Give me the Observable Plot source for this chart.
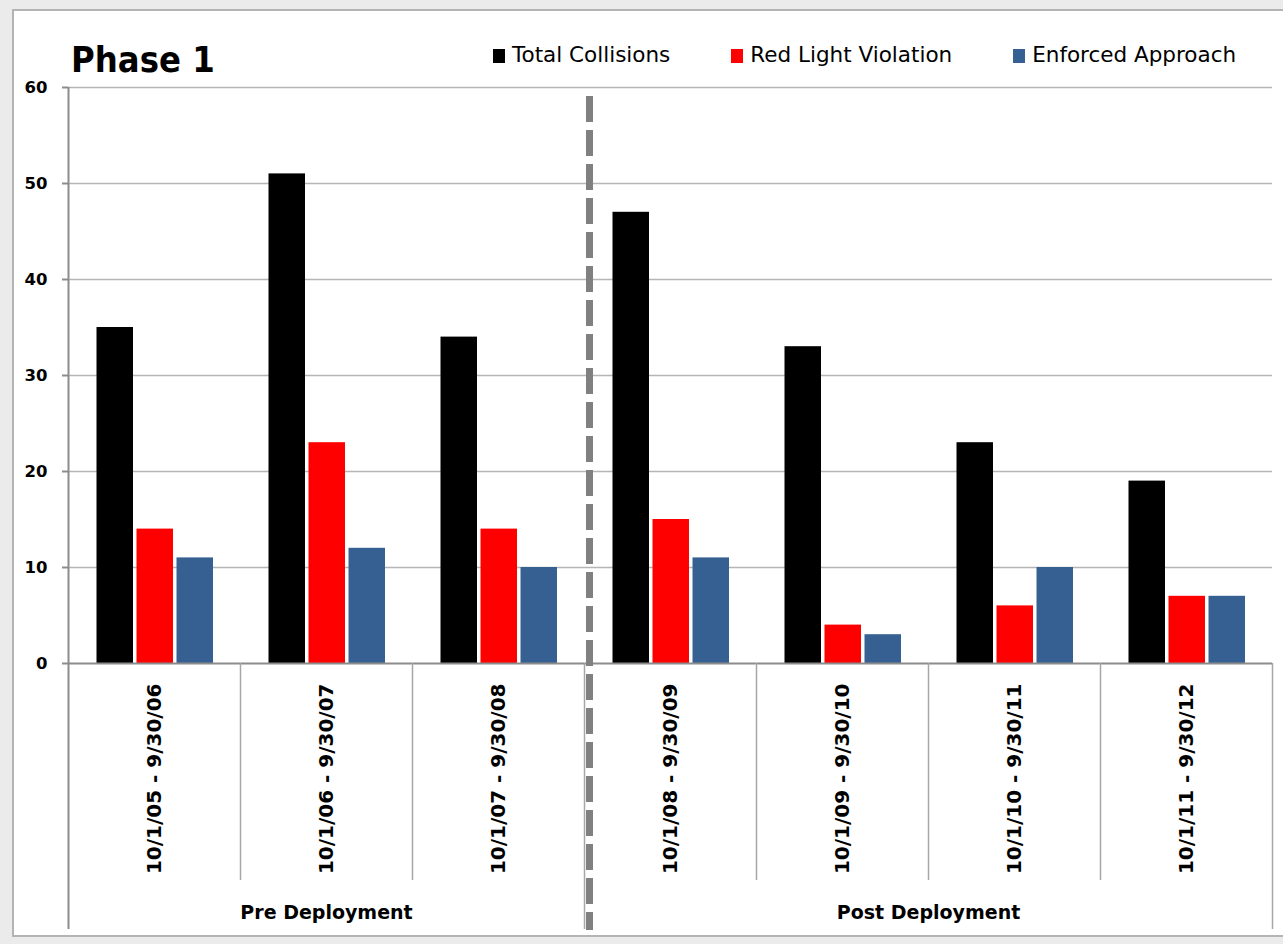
<!DOCTYPE html>
<html>
<head>
<meta charset="utf-8">
<script src="https://cdn.jsdelivr.net/npm/d3@7"></script>
<script src="https://cdn.jsdelivr.net/npm/@observablehq/plot@0.6"></script>
<style>
  html, body { margin: 0; padding: 0; background: #ebebeb; overflow: hidden; }
  body { width: 1283px; height: 944px; position: relative; }
  .cond { font-family: "DejaVu Sans Condensed", "DejaVu Sans", sans-serif; font-stretch: condensed; }
  .sans { font-family: "DejaVu Sans", sans-serif; }
  #frame {
    position: absolute; left: 12px; top: 9px; width: 1290px; height: 928px;
    background: #fff; border: 2px solid #b4b4b4; box-sizing: border-box;
  }
  #title {
    position: absolute; left: 71px; top: 41px; font-size: 36px; line-height: 37px;
    font-weight: bold; color: #000;
  }
  #legend {
    position: absolute; left: 493px; top: 44px; display: flex; gap: 61px;
    font-size: 21.5px; line-height: 22px; color: #000;
  }
  #legend .item { display: flex; align-items: center; gap: 7px; white-space: nowrap; }
  #legend .sw { width: 12px; height: 14px; display: inline-block; margin-top: 1px; }
  #chart { position: absolute; left: 0; top: 0; }
  #chart svg { background: transparent; }
  #chart g[aria-label^="y-axis"] text { font-size: 16.5px !important; font-weight: bold !important; fill: #000; }
  #chart g[aria-label^="x-axis"] text { font-size: 20px !important; font-weight: bold !important; fill: #000; }
  #chart g[aria-label^="y-axis"] line, #chart g[aria-label^="y-axis"] path { stroke: #8c8c8c; stroke-width: 2px; }
</style>
</head>
<body>
<div id="frame"></div>
<div id="title" class="cond">Phase 1</div>
<div id="legend" class="sans"></div>
<div id="chart" class="sans"></div>
<script>
// Collision counts per fiscal year, before and after deployment
const periods = [
  "10/1/05 - 9/30/06",
  "10/1/06 - 9/30/07",
  "10/1/07 - 9/30/08",
  "10/1/08 - 9/30/09",
  "10/1/09 - 9/30/10",
  "10/1/10 - 9/30/11",
  "10/1/11 - 9/30/12"
];
const totalCollisions   = [35, 51, 34, 47, 33, 23, 19];
const redLightViolation = [14, 23, 14, 15, 4, 6, 7];
const enforcedApproach  = [11, 12, 10, 11, 3, 10, 7];

const seriesNames  = ["Total Collisions", "Red Light Violation", "Enforced Approach"];
const seriesColors = ["#000000", "#ff0000", "#366092"];
const seriesValues = [totalCollisions, redLightViolation, enforcedApproach];

const yTicks = [0, 10, 20, 30, 40, 50, 60];

// Deployment phases: name plus first/last period index
const phaseNames = ["Pre Deployment", "Post Deployment"];
const phaseFirst = [0, 3];
const phaseLast  = [2, 6];

// Legend
const legend = document.getElementById("legend");
seriesNames.forEach((name, i) => {
  const item = document.createElement("div");
  item.className = "item";
  const sw = document.createElement("span");
  sw.className = "sw";
  sw.style.background = seriesColors[i];
  item.appendChild(sw);
  item.appendChild(document.createTextNode(name));
  legend.appendChild(item);
});

// Layout
const W = 1283, H = 944;
const mL = 68, mR = 11, mT = 87, mB = 281;
const bw = (W - mL - mR) / periods.length;      // width of one period band
const barW = 36.5, barPitch = 40, barStart = 28.5;
const plotH = H - mT - mB;

const rows = seriesNames.map((s, k) =>
  periods.map((p, i) => ({period: p, series: s, value: seriesValues[k][i]}))
);

const barMarks = rows.map((data, k) => Plot.barY(data, {
  x: "period",
  y: "value",
  fill: seriesColors[k],
  insetLeft: barStart + k * barPitch,
  insetRight: bw - (barStart + k * barPitch) - barW
}));

// separators below the axis: short ones between periods, long ones at phase edges
const phaseEdgesLeft = phaseFirst.map(i => periods[i]);
const innerSeps = periods.filter((p, i) => i > 0 && !phaseFirst.includes(i));

// phase labels, centred over the periods each phase covers
const phaseLabels = phaseNames.map((n, j) => Plot.text(
  [{name: n, period: periods[phaseFirst[j]]}],
  {
    x: "period",
    text: "name",
    frameAnchor: "bottom",
    dy: 255,
    dx: (phaseLast[j] - phaseFirst[j]) * bw / 2,
    fontSize: 19,
    fontWeight: "bold",
    fill: "#000"
  }
));

const chart = Plot.plot({
  width: W,
  height: H,
  marginLeft: mL,
  marginRight: mR,
  marginTop: mT,
  marginBottom: mB,
  style: {background: "transparent", overflow: "visible", fontFamily: "DejaVu Sans, sans-serif"},
  x: {
    domain: periods,
    padding: 0,
    tickRotate: -90,
    tickSize: 0,
    tickPadding: 20,
    label: null
  },
  y: {
    domain: [0, 60],
    ticks: yTicks,
    tickSize: 6,
    tickPadding: 15,
    label: null
  },
  marks: [
    Plot.ruleY(yTicks.filter(d => d > 0), {stroke: "#b5b5b5", strokeWidth: 1.5}),
    ...barMarks,
    Plot.ruleY([0], {stroke: "#8c8c8c", strokeWidth: 2}),
    // left axis line, running down to the phase labels
    Plot.ruleX([periods[0]], {dx: -bw / 2, stroke: "#8c8c8c", strokeWidth: 2, insetBottom: -266}),
    // right edge below the axis
    Plot.ruleX([periods[periods.length - 1]], {dx: bw / 2, stroke: "#a6a6a6", strokeWidth: 1.5, insetTop: plotH, insetBottom: -266}),
    // phase boundaries below the axis
    Plot.ruleX(phaseEdgesLeft.slice(1), {dx: -bw / 2, stroke: "#a6a6a6", strokeWidth: 1.5, insetTop: plotH, insetBottom: -266}),
    // period separators below the axis
    Plot.ruleX(innerSeps, {dx: -bw / 2, stroke: "#a6a6a6", strokeWidth: 1.5, insetTop: plotH, insetBottom: -217}),
    // dashed deployment divider
    Plot.ruleX(phaseEdgesLeft.slice(1), {
      dx: -bw / 2 + 5, stroke: "#808080", strokeWidth: 7, strokeDasharray: "26,8",
      insetTop: 9, insetBottom: -267
    }),
    ...phaseLabels
  ]
});

document.getElementById("chart").appendChild(chart);
</script>
</body>
</html>
